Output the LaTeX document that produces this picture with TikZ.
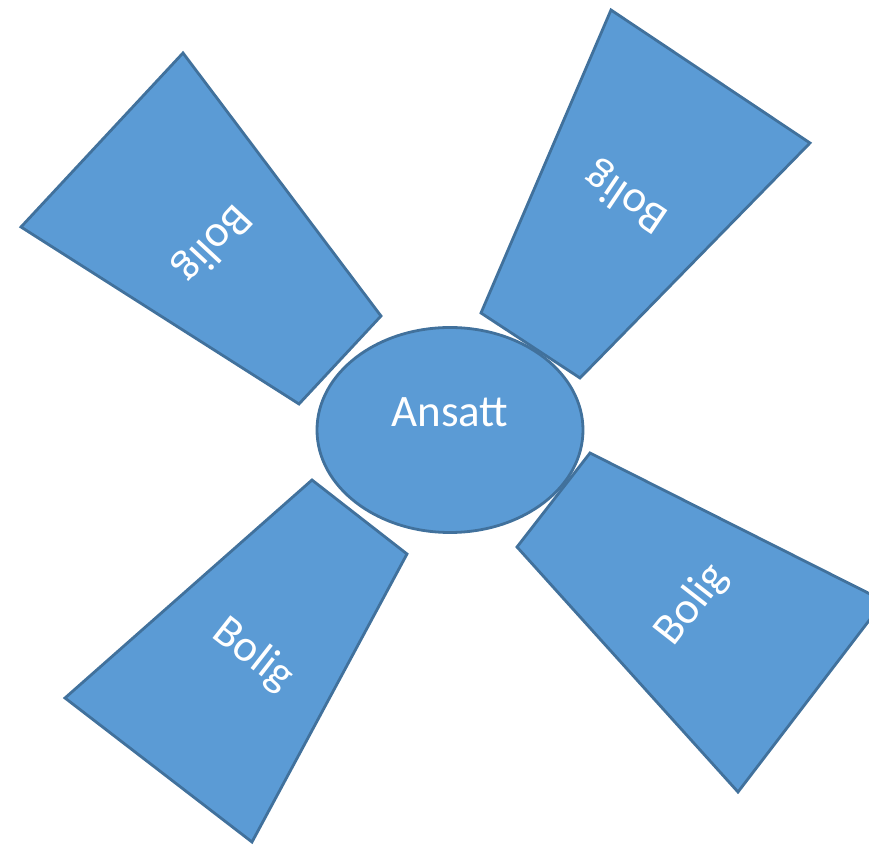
\documentclass[tikz,border=0pt]{standalone}
\usepackage{fontspec}
\setmainfont{Carlito}
\usetikzlibrary{shapes.geometric}
\definecolor{boxfill}{HTML}{5B9BD5}
\definecolor{boxline}{HTML}{41719C}
\tikzset{
  piece/.style={fill=boxfill,draw=boxline,line width=1.4pt,line join=miter},
  word/.style={text=white,font=\fontsize{22.5}{27}\selectfont,inner sep=0pt},
}
\begin{document}
\begin{tikzpicture}[x=0.5pt,y=-0.5pt]
        \useasboundingbox (0,0) rectangle (869,845);
        \clip (0,0) rectangle (869,845);
        \begin{scope}
          \draw[piece] (183,53) -- (21,227) -- (299,404) -- (381,316) -- cycle;
          \draw[piece] (611,10) -- (810,143) -- (580,378) -- (481,313) -- cycle;
          \draw[piece] (312,480) -- (407,554) -- (252,842) -- (65,698) -- cycle;
          \draw[piece] (590,453) -- (884,601) -- (738,792) -- (517,547) -- cycle;

          \node[word,rotate=-133] (B1) at (212,243) {Bolig};
          \node[word,rotate=146] (B2) at (627,197) {Bolig};
          \node[word,rotate=-38] (B3) at (253,655) {Bolig};
          \node[word,rotate=52] (B4) at (692,605) {Bolig};

          \node[piece,ellipse,minimum width=133pt,minimum height=102.5pt,inner sep=0pt] (ANS) at (450,430) {};
          \node[word] (ANSTXT) at (450,412) {Ansatt};
        \end{scope}
      \end{tikzpicture}
\end{document}
